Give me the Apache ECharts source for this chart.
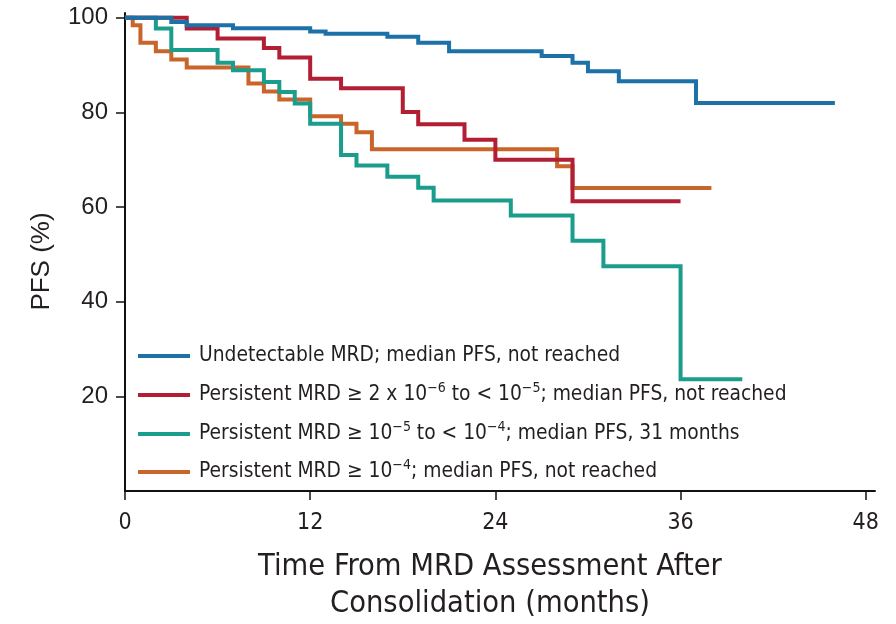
<!DOCTYPE html>
<html>
<head>
<meta charset="utf-8">
<script src="https://cdn.jsdelivr.net/npm/echarts@6/dist/echarts.min.js"></script>
<style>
  html, body { margin: 0; padding: 0; background: #fff; }
  #chart { width: 896px; height: 624px; }
</style>
</head>
<body>
<div id="chart"></div>
<script>
// Kaplan-Meier PFS estimates by MRD group: event times (months) and PFS (%) after each step
const undetectableTimes = [0, 3, 4, 7, 12, 13, 17, 19, 21, 27, 29, 30, 32, 37, 46];
const undetectablePfs   = [100, 99.1, 98.4, 97.8, 97.1, 96.6, 96.0, 94.7, 92.9, 91.9, 90.5, 88.7, 86.6, 82.0, 82.0];

const lowMrdTimes = [0, 4, 6, 9, 10, 12, 14, 18, 19, 22, 24, 29, 36];
const lowMrdPfs   = [100, 97.7, 95.6, 93.6, 91.6, 87.1, 85.1, 80.1, 77.5, 74.2, 70.0, 61.2, 61.2];

const midMrdTimes = [0, 2, 3, 6, 7, 9, 10, 11, 12, 14, 15, 17, 19, 20, 25, 29, 31, 36, 40];
const midMrdPfs   = [100, 97.7, 93.2, 90.5, 88.9, 86.4, 84.3, 81.9, 77.6, 71.0, 68.8, 66.4, 64.1, 61.4, 58.2, 52.9, 47.5, 23.6, 23.6];

const highMrdTimes = [0, 0.5, 1, 2, 3, 4, 8, 9, 10, 12, 14, 15, 16, 28, 29, 38];
const highMrdPfs   = [100, 98.4, 94.7, 92.9, 91.2, 89.5, 86.1, 84.4, 82.7, 79.2, 77.6, 75.8, 72.2, 68.6, 64.0, 64.0];

const groupNames = [
  'Undetectable MRD; median PFS, not reached',
  'Persistent MRD ≥ 2 x 10−6 to < 10−5; median PFS, not reached',
  'Persistent MRD ≥ 10−5 to < 10−4; median PFS, 31 months',
  'Persistent MRD ≥ 10−4; median PFS, not reached'
];
const groupLabels = [
  'Undetectable MRD; median PFS, not reached',
  'Persistent MRD ≥ 2 x 10{sup|−6} to < 10{sup|−5}; median PFS, not reached',
  'Persistent MRD ≥ 10{sup|−5} to < 10{sup|−4}; median PFS, 31 months',
  'Persistent MRD ≥ 10{sup|−4}; median PFS, not reached'
];
const groupColors = ['#1c72a6', '#b21f35', '#1a9d8c', '#c9652a'];

const xTicks = [0, 12, 24, 36, 48];
const yTicks = [20, 40, 60, 80, 100];

function zip(ts, vs) { return ts.map((t, i) => [t, vs[i]]); }
const groupData = [
  zip(undetectableTimes, undetectablePfs),
  zip(lowMrdTimes, lowMrdPfs),
  zip(midMrdTimes, midMrdPfs),
  zip(highMrdTimes, highMrdPfs)
];

const narrow = '"DejaVu Sans Condensed", "Liberation Sans Narrow", sans-serif';
const regular = '"Liberation Sans", Arial, sans-serif';
const textColor = '#231f20';

// draw order: orange, teal, red, then blue on top
const drawOrder = [3, 2, 1, 0];
const series = drawOrder.map(i => ({
  name: groupNames[i],
  type: 'line',
  step: 'end',
  showSymbol: false,
  symbol: 'none',
  data: groupData[i],
  lineStyle: { color: groupColors[i], width: 4, cap: 'butt', join: 'miter' },
  itemStyle: { color: groupColors[i] },
  z: 2 + (3 - i)
}));

const legendRows = [356, 395, 434, 472];
const legends = groupNames.map((name, i) => ({
  show: true,
  data: [name],
  left: 138,
  top: legendRows[i] - 14,
  padding: 0,
  orient: 'vertical',
  icon: 'rect',
  itemWidth: 52,
  itemHeight: 4,
  itemGap: 0,
  selectedMode: false,
  formatter: n => groupLabels[groupNames.indexOf(n)],
  textStyle: {
    fontFamily: narrow,
    fontSize: 20.8,
    color: textColor,
    lineHeight: 28,
    padding: [0, 0, 0, 4],
    rich: {
      sup: { fontFamily: narrow, fontSize: 14, lineHeight: 14, verticalAlign: 'top', color: textColor }
    }
  }
}));

const chart = echarts.init(document.getElementById('chart'), null, { renderer: 'canvas' });
chart.setOption({
  animation: false,
  backgroundColor: '#fff',
  grid: { left: 125, right: 21, top: 13, bottom: 133, containLabel: false, outerBoundsMode: 'none' },
  legend: legends,
  xAxis: {
    type: 'value',
    min: 0,
    max: 48.6,
    interval: 12,
    name: 'Time From MRD Assessment After\nConsolidation (months)',
    nameLocation: 'middle',
    nameGap: 58,
    nameTextStyle: {
      fontFamily: narrow, fontSize: 30.5, lineHeight: 37, color: textColor,
      padding: [0, 20, 0, 0]
    },
    axisLine: { show: true, onZero: false, lineStyle: { color: '#111', width: 2 } },
    axisTick: { show: true, inside: false, length: 9, customValues: xTicks, lineStyle: { color: '#111', width: 1.5 } },
    axisLabel: { customValues: xTicks, margin: 21, fontFamily: narrow, fontSize: 23, color: textColor },
    splitLine: { show: false }
  },
  yAxis: {
    type: 'value',
    min: 0,
    max: 101,
    interval: 20,
    name: 'PFS (%)',
    nameLocation: 'middle',
    nameRotate: 90,
    nameGap: 70,
    nameTextStyle: {
      fontFamily: regular, fontSize: 26, color: textColor,
      padding: [0, 19, 0, 0]
    },
    axisLine: { show: true, onZero: false, lineStyle: { color: '#111', width: 2 } },
    axisTick: { show: true, inside: false, length: 9, customValues: yTicks, lineStyle: { color: '#111', width: 1.5 } },
    axisLabel: { customValues: yTicks, margin: 17, fontFamily: regular, fontSize: 24, color: textColor },
    splitLine: { show: false }
  },
  series: series
});
</script>
</body>
</html>
